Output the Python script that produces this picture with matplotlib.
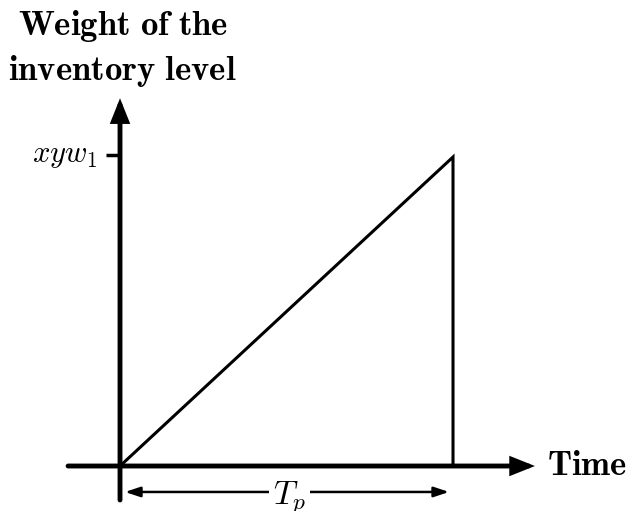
import matplotlib
matplotlib.use("Agg")
import matplotlib.pyplot as plt
from matplotlib.patches import FancyArrowPatch

plt.rcParams["mathtext.fontset"] = "cm"
plt.rcParams["font.family"] = "serif"
plt.rcParams["font.serif"] = ["DejaVu Serif"]

# Inventory weight rises linearly from 0 to x*y*w1 over the production period T_p
period_T_p = 1.0
peak_level = 1.0
times = [0.0, period_T_p, period_T_p]
levels = [0.0, peak_level, 0.0]
y_tick_label = r"$xyw_1$"
x_span_label = r"$T_p$"
y_title_line1 = r"$\mathbf{Weight\ of\ the}$"
y_title_line2 = r"$\mathbf{inventory\ level}$"
x_axis_title = r"$\mathbf{Time}$"

W, H = 629, 511
fig = plt.figure(figsize=(W / 100, H / 100), dpi=100)
ax = fig.add_axes([0, 0, 1, 1])
ax.set_xlim(-0.3604, 1.5285)
ax.set_ylim(-0.1456, 1.5081)
ax.axis("off")

axis_lw = 3.5
head = dict(arrowstyle="-|>,head_length=0.6,head_width=0.24", mutation_scale=20,
            color="black", shrinkA=0, shrinkB=0, joinstyle="miter")

# vertical axis (extends a little below the origin)
ax.add_patch(FancyArrowPatch((0, -0.11), (0, 1.19), lw=axis_lw, **head))
# horizontal axis
ax.add_patch(FancyArrowPatch((-0.156, 0), (1.246, 0), lw=axis_lw, **head))

# inventory profile
ax.plot(times, levels, color="black", lw=2.2, solid_joinstyle="miter")

# tick at the peak level
ax.plot([-0.042, 0], [peak_level + 0.006, peak_level + 0.006], color="black", lw=2.5,
        solid_capstyle="butt")
ax.text(-0.07, 0.984, y_tick_label, ha="right", va="baseline", fontsize=22)

# double-headed span for T_p
span_y = -0.084
dbl = dict(arrowstyle="<|-|>,head_length=0.45,head_width=0.15", mutation_scale=20,
           color="black", shrinkA=0, shrinkB=0)
ax.add_patch(FancyArrowPatch((0.015, span_y), (period_T_p - 0.012, span_y), lw=1.8, **dbl))
ax.text(0.51, -0.1197, x_span_label, ha="center", va="baseline", fontsize=24,
        bbox=dict(facecolor="white", edgecolor="none", pad=3))

# axis titles
ax.text(-0.3063, 1.3948, y_title_line1, ha="left", va="baseline", fontsize=25)
ax.text(-0.3364, 1.2492, y_title_line2, ha="left", va="baseline", fontsize=25)
ax.text(1.2822, -0.029, x_axis_title, ha="left", va="baseline", fontsize=25)

fig.savefig("out.png", dpi=100)
